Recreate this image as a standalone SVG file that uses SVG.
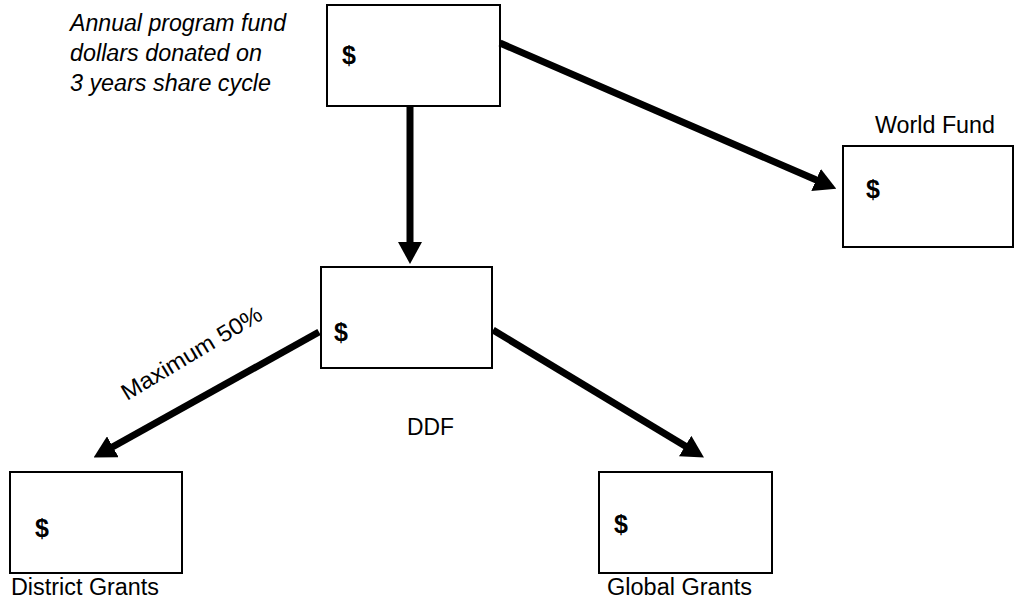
<svg xmlns="http://www.w3.org/2000/svg" width="1015" height="603" viewBox="0 0 1015 603">
  <style>
    .box { fill: #fff; stroke: #000; stroke-width: 2; }
    .t { font-family: "Liberation Sans", Arial, sans-serif; font-size: 23px; fill: #000; }
    .it { font-style: italic; }
    .d { font-weight: bold; font-size: 25px; }
    .conn { stroke: #000; stroke-width: 7; fill: none; }
  </style>
  <defs>
    <marker id="arrow" markerUnits="userSpaceOnUse" viewBox="0 0 22 24" markerWidth="22" markerHeight="24" refX="1" refY="12" orient="auto">
      <path d="M0,0 L22,12 L0,24 Z" fill="#000"/>
    </marker>
  </defs>
  <rect width="1015" height="603" fill="#fff"/>

  <g id="annual-note">
    <text class="t it" x="70" y="31" textLength="216" lengthAdjust="spacingAndGlyphs">Annual program fund</text>
    <text class="t it" x="70" y="61" textLength="192" lengthAdjust="spacingAndGlyphs">dollars donated on</text>
    <text class="t it" x="70" y="91" textLength="201" lengthAdjust="spacingAndGlyphs">3 years share cycle</text>
  </g>

  <g id="node-top">
    <rect class="box" x="327" y="5" width="173" height="101"/>
    <text class="t d" x="342" y="64">$</text>
  </g>

  <g id="node-world">
    <rect class="box" x="843" y="146" width="170" height="101"/>
    <text class="t d" x="866" y="198">$</text>
    <text class="t" x="875" y="133" textLength="120" lengthAdjust="spacingAndGlyphs">World Fund</text>
  </g>

  <g id="node-ddf">
    <rect class="box" x="321" y="267" width="171" height="101"/>
    <text class="t d" x="334" y="341">$</text>
    <text class="t" x="407" y="435" textLength="47" lengthAdjust="spacingAndGlyphs">DDF</text>
  </g>

  <g id="node-district">
    <rect class="box" x="10" y="472" width="172" height="101"/>
    <text class="t d" x="35" y="537">$</text>
    <text class="t" x="11" y="595" textLength="148" lengthAdjust="spacingAndGlyphs">District Grants</text>
  </g>

  <g id="node-global">
    <rect class="box" x="599" y="472" width="173" height="101"/>
    <text class="t d" x="614" y="533">$</text>
    <text class="t" x="607" y="595" textLength="145" lengthAdjust="spacingAndGlyphs">Global Grants</text>
  </g>

  <g id="connectors">
    <line class="conn" x1="500" y1="43" x2="817" y2="180.3" marker-end="url(#arrow)"/>
    <line class="conn" x1="410" y1="106" x2="410" y2="243" marker-end="url(#arrow)"/>
    <line class="conn" x1="319" y1="332" x2="112" y2="447.3" marker-end="url(#arrow)"/>
    <line class="conn" x1="493" y1="330" x2="686" y2="446.6" marker-end="url(#arrow)"/>
    <text class="t" x="127" y="401" transform="rotate(-31 127 401)" textLength="160" lengthAdjust="spacingAndGlyphs">Maximum 50%</text>
  </g>
</svg>
